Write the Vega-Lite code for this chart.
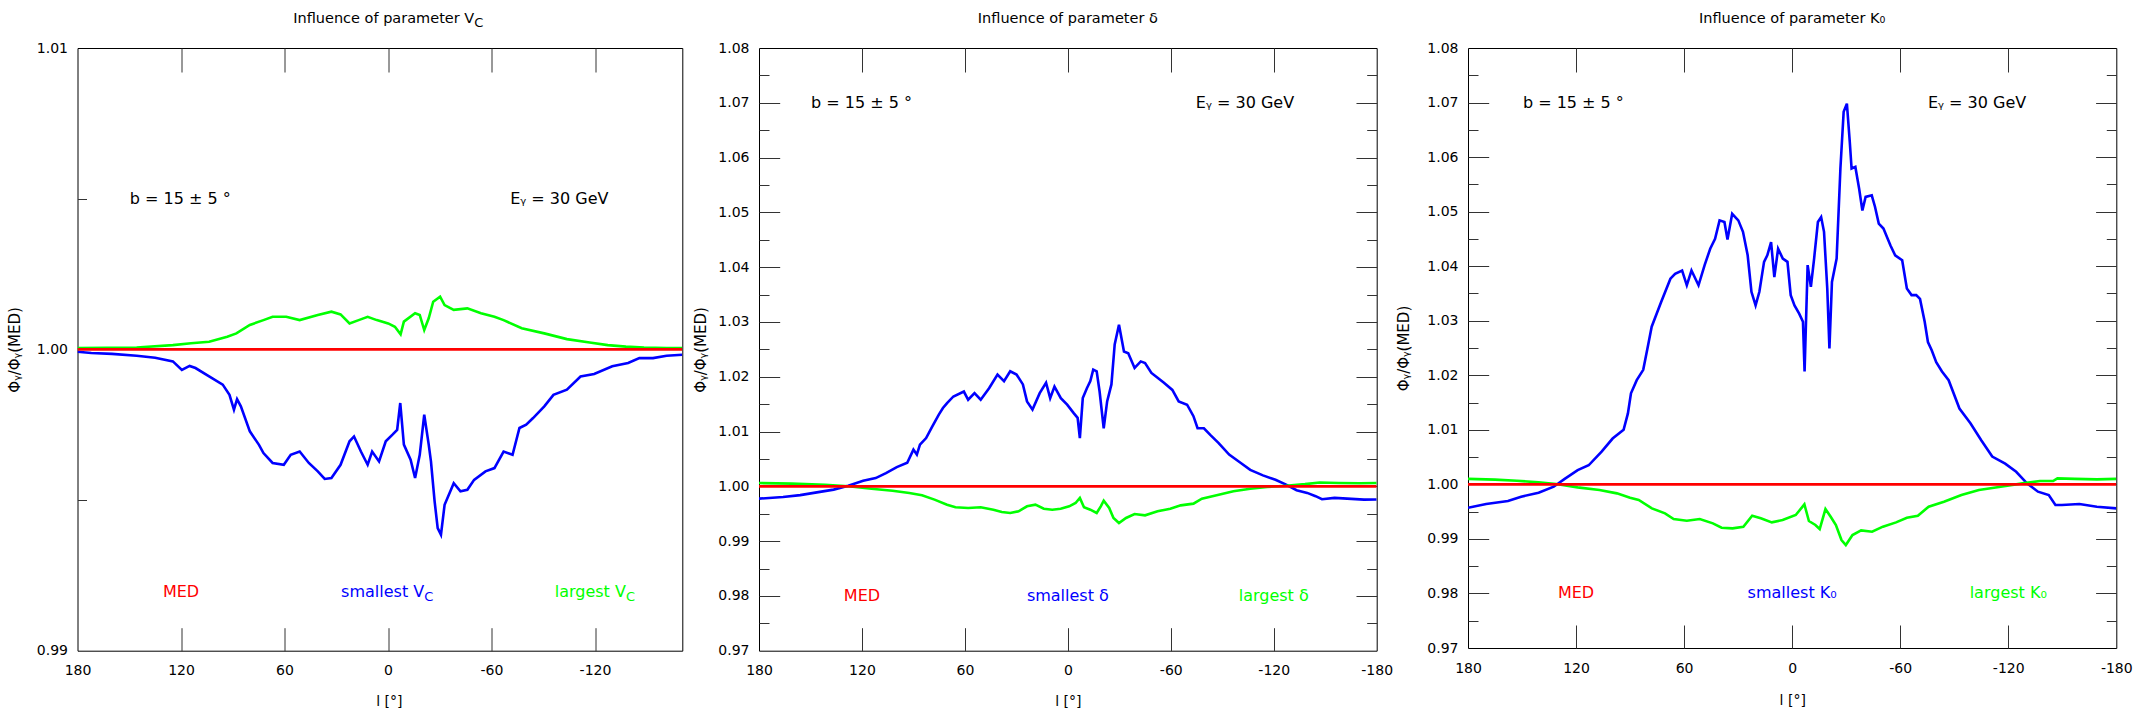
{
 "$schema": "https://vega.github.io/schema/vega-lite/v6.json",
 "padding": {"left": 6.5, "top": 10, "right": 5, "bottom": 0},
 "background": "white",
 "config": {
  "view": {"stroke": "#000000", "strokeWidth": 1},
  "axis": {"grid": false, "domain": false, "labelFont": "DejaVu Sans", "labelFontSize": 14, "labelColor": "#000000", "labelFlush": false, "labelOverlap": false, "labelBound": false, "tickColor": "#333333", "tickWidth": 1, "titleFont": "DejaVu Sans", "titleFontSize": 15, "titleFontWeight": "normal", "titleColor": "#000000"},
  "text": {"font": "DejaVu Sans"}
 },
 "datasets": {
  "p1": [
   {"l":180,"v":0.99992,"s":"smallest"},{"l":172,"v":0.99988,"s":"smallest"},{"l":160,"v":0.99985,"s":"smallest"},{"l":145.7,"v":0.99979,"s":"smallest"},{"l":135,"v":0.99972,"s":"smallest"},{"l":124.7,"v":0.9996,"s":"smallest"},{"l":119.5,"v":0.99932,"s":"smallest"},{"l":115,"v":0.99945,"s":"smallest"},{"l":111.6,"v":0.99938,"s":"smallest"},{"l":103.7,"v":0.9991,"s":"smallest"},{"l":95.8,"v":0.99883,"s":"smallest"},{"l":91.9,"v":0.99849,"s":"smallest"},{"l":89.3,"v":0.998,"s":"smallest"},{"l":87.5,"v":0.99835,"s":"smallest"},{"l":85.3,"v":0.99811,"s":"smallest"},{"l":80.1,"v":0.99728,"s":"smallest"},{"l":74.8,"v":0.99683,"s":"smallest"},{"l":72.2,"v":0.99656,"s":"smallest"},{"l":66.9,"v":0.99623,"s":"smallest"},{"l":60.4,"v":0.99617,"s":"smallest"},{"l":56.4,"v":0.9965,"s":"smallest"},{"l":51.2,"v":0.99661,"s":"smallest"},{"l":45.9,"v":0.99623,"s":"smallest"},{"l":40.7,"v":0.99595,"s":"smallest"},{"l":36.7,"v":0.9957,"s":"smallest"},{"l":32.8,"v":0.99573,"s":"smallest"},{"l":27.5,"v":0.99617,"s":"smallest"},{"l":22.3,"v":0.99695,"s":"smallest"},{"l":19.7,"v":0.99711,"s":"smallest"},{"l":15.7,"v":0.99661,"s":"smallest"},{"l":11.8,"v":0.99617,"s":"smallest"},{"l":9.2,"v":0.99661,"s":"smallest"},{"l":5.2,"v":0.99628,"s":"smallest"},{"l":1.3,"v":0.99695,"s":"smallest"},{"l":-2.6,"v":0.99717,"s":"smallest"},{"l":-5.3,"v":0.99733,"s":"smallest"},{"l":-7.1,"v":0.99822,"s":"smallest"},{"l":-9.2,"v":0.99684,"s":"smallest"},{"l":-13.1,"v":0.99634,"s":"smallest"},{"l":-15.7,"v":0.99573,"s":"smallest"},{"l":-18.4,"v":0.9965,"s":"smallest"},{"l":-21,"v":0.99783,"s":"smallest"},{"l":-23.6,"v":0.99684,"s":"smallest"},{"l":-24.9,"v":0.99628,"s":"smallest"},{"l":-27,"v":0.99496,"s":"smallest"},{"l":-28.8,"v":0.99407,"s":"smallest"},{"l":-30.7,"v":0.99385,"s":"smallest"},{"l":-32.8,"v":0.99484,"s":"smallest"},{"l":-38.1,"v":0.99556,"s":"smallest"},{"l":-42,"v":0.99529,"s":"smallest"},{"l":-46,"v":0.99534,"s":"smallest"},{"l":-49.9,"v":0.99567,"s":"smallest"},{"l":-56.5,"v":0.99595,"s":"smallest"},{"l":-61.7,"v":0.99606,"s":"smallest"},{"l":-67,"v":0.99661,"s":"smallest"},{"l":-72.2,"v":0.9965,"s":"smallest"},{"l":-76.2,"v":0.99739,"s":"smallest"},{"l":-80.1,"v":0.9975,"s":"smallest"},{"l":-84.1,"v":0.99772,"s":"smallest"},{"l":-90.6,"v":0.99811,"s":"smallest"},{"l":-95.9,"v":0.99849,"s":"smallest"},{"l":-103.7,"v":0.99866,"s":"smallest"},{"l":-111.6,"v":0.9991,"s":"smallest"},{"l":-119.5,"v":0.99918,"s":"smallest"},{"l":-130,"v":0.99944,"s":"smallest"},{"l":-139.2,"v":0.99955,"s":"smallest"},{"l":-145.7,"v":0.99971,"s":"smallest"},{"l":-153.6,"v":0.99971,"s":"smallest"},{"l":-161.5,"v":0.99979,"s":"smallest"},{"l":-170.6,"v":0.99982,"s":"smallest"},
   {"l":180,"v":1.00004,"s":"largest"},{"l":145.7,"v":1.00006,"s":"largest"},{"l":124.7,"v":1.00014,"s":"largest"},{"l":114.2,"v":1.0002,"s":"largest"},{"l":103.7,"v":1.00025,"s":"largest"},{"l":93.2,"v":1.00042,"s":"largest"},{"l":87.9,"v":1.00053,"s":"largest"},{"l":80.1,"v":1.00081,"s":"largest"},{"l":72.2,"v":1.00097,"s":"largest"},{"l":66.9,"v":1.00108,"s":"largest"},{"l":59,"v":1.00108,"s":"largest"},{"l":51.2,"v":1.00097,"s":"largest"},{"l":40.7,"v":1.00114,"s":"largest"},{"l":32.8,"v":1.00125,"s":"largest"},{"l":27.5,"v":1.00116,"s":"largest"},{"l":22.3,"v":1.00086,"s":"largest"},{"l":17,"v":1.00097,"s":"largest"},{"l":11.8,"v":1.00108,"s":"largest"},{"l":6.5,"v":1.00097,"s":"largest"},{"l":-0.1,"v":1.00086,"s":"largest"},{"l":-4,"v":1.00075,"s":"largest"},{"l":-7.3,"v":1.0005,"s":"largest"},{"l":-9.2,"v":1.00092,"s":"largest"},{"l":-15.7,"v":1.0012,"s":"largest"},{"l":-18.4,"v":1.00114,"s":"largest"},{"l":-21,"v":1.00064,"s":"largest"},{"l":-23.6,"v":1.00103,"s":"largest"},{"l":-26.2,"v":1.00158,"s":"largest"},{"l":-30.2,"v":1.00175,"s":"largest"},{"l":-32.8,"v":1.00147,"s":"largest"},{"l":-38.1,"v":1.00131,"s":"largest"},{"l":-46,"v":1.00136,"s":"largest"},{"l":-53.9,"v":1.0012,"s":"largest"},{"l":-61.7,"v":1.00108,"s":"largest"},{"l":-67,"v":1.00097,"s":"largest"},{"l":-77.5,"v":1.0007,"s":"largest"},{"l":-90.6,"v":1.00053,"s":"largest"},{"l":-103.7,"v":1.00034,"s":"largest"},{"l":-116.9,"v":1.00023,"s":"largest"},{"l":-127.4,"v":1.00014,"s":"largest"},{"l":-137.9,"v":1.00009,"s":"largest"},{"l":-148.4,"v":1.00006,"s":"largest"},{"l":-161.5,"v":1.00004,"s":"largest"},{"l":-170.6,"v":1.00004,"s":"largest"},
   {"l":180,"v":1.0,"s":"MED"},{"l":-170.6,"v":1.0,"s":"MED"}
  ],
  "p2": [
   {"l":180,"v":0.99775,"s":"smallest"},{"l":166,"v":0.99805,"s":"smallest"},{"l":156,"v":0.9984,"s":"smallest"},{"l":146.3,"v":0.9989,"s":"smallest"},{"l":136.5,"v":0.9994,"s":"smallest"},{"l":128,"v":1.0001,"s":"smallest"},{"l":119.3,"v":1.001,"s":"smallest"},{"l":112,"v":1.0015,"s":"smallest"},{"l":106,"v":1.0024,"s":"smallest"},{"l":99.7,"v":1.0035,"s":"smallest"},{"l":93.6,"v":1.0043,"s":"smallest"},{"l":90,"v":1.0067,"s":"smallest"},{"l":88,"v":1.0058,"s":"smallest"},{"l":86.2,"v":1.0076,"s":"smallest"},{"l":82.6,"v":1.0088,"s":"smallest"},{"l":78.9,"v":1.011,"s":"smallest"},{"l":75.2,"v":1.0131,"s":"smallest"},{"l":72.8,"v":1.0143,"s":"smallest"},{"l":70.4,"v":1.0152,"s":"smallest"},{"l":66.7,"v":1.0164,"s":"smallest"},{"l":60.6,"v":1.0173,"s":"smallest"},{"l":58.1,"v":1.0158,"s":"smallest"},{"l":54.4,"v":1.017,"s":"smallest"},{"l":50.8,"v":1.0158,"s":"smallest"},{"l":45.9,"v":1.0179,"s":"smallest"},{"l":41,"v":1.0204,"s":"smallest"},{"l":37.2,"v":1.0192,"s":"smallest"},{"l":33.6,"v":1.021,"s":"smallest"},{"l":29.9,"v":1.0204,"s":"smallest"},{"l":26.2,"v":1.0186,"s":"smallest"},{"l":23.8,"v":1.0155,"s":"smallest"},{"l":20.6,"v":1.014,"s":"smallest"},{"l":16.4,"v":1.017,"s":"smallest"},{"l":12.7,"v":1.0189,"s":"smallest"},{"l":10.3,"v":1.0161,"s":"smallest"},{"l":7.8,"v":1.0182,"s":"smallest"},{"l":4.1,"v":1.0161,"s":"smallest"},{"l":0.4,"v":1.0149,"s":"smallest"},{"l":-3.3,"v":1.0134,"s":"smallest"},{"l":-5.7,"v":1.0125,"s":"smallest"},{"l":-7,"v":1.0088,"s":"smallest"},{"l":-8.7,"v":1.0161,"s":"smallest"},{"l":-11.1,"v":1.0179,"s":"smallest"},{"l":-13.1,"v":1.0192,"s":"smallest"},{"l":-14.8,"v":1.0213,"s":"smallest"},{"l":-16.8,"v":1.021,"s":"smallest"},{"l":-18.5,"v":1.0173,"s":"smallest"},{"l":-20.9,"v":1.0106,"s":"smallest"},{"l":-22.9,"v":1.0155,"s":"smallest"},{"l":-25.4,"v":1.0186,"s":"smallest"},{"l":-27.3,"v":1.0259,"s":"smallest"},{"l":-29.8,"v":1.0295,"s":"smallest"},{"l":-32.7,"v":1.0246,"s":"smallest"},{"l":-35.2,"v":1.0243,"s":"smallest"},{"l":-38.9,"v":1.0216,"s":"smallest"},{"l":-42.5,"v":1.0228,"s":"smallest"},{"l":-45,"v":1.0225,"s":"smallest"},{"l":-48.7,"v":1.0207,"s":"smallest"},{"l":-52.3,"v":1.0198,"s":"smallest"},{"l":-56,"v":1.0189,"s":"smallest"},{"l":-60.9,"v":1.0176,"s":"smallest"},{"l":-64.6,"v":1.0155,"s":"smallest"},{"l":-69.5,"v":1.0149,"s":"smallest"},{"l":-73.2,"v":1.0128,"s":"smallest"},{"l":-75.6,"v":1.0106,"s":"smallest"},{"l":-79.3,"v":1.0106,"s":"smallest"},{"l":-83,"v":1.0094,"s":"smallest"},{"l":-87.9,"v":1.0079,"s":"smallest"},{"l":-94,"v":1.0058,"s":"smallest"},{"l":-100.2,"v":1.0044,"s":"smallest"},{"l":-106.3,"v":1.003,"s":"smallest"},{"l":-113.7,"v":1.002,"s":"smallest"},{"l":-121,"v":1.0012,"s":"smallest"},{"l":-127.2,"v":1.0003,"s":"smallest"},{"l":-133.3,"v":0.9993,"s":"smallest"},{"l":-139.5,"v":0.9988,"s":"smallest"},{"l":-144.4,"v":0.9982,"s":"smallest"},{"l":-148.1,"v":0.99765,"s":"smallest"},{"l":-155.4,"v":0.9979,"s":"smallest"},{"l":-162.8,"v":0.99775,"s":"smallest"},{"l":-172.6,"v":0.99757,"s":"smallest"},{"l":-180,"v":0.9976,"s":"smallest"},
   {"l":180,"v":1.0006,"s":"largest"},{"l":161,"v":1.0005,"s":"largest"},{"l":141.4,"v":1.0003,"s":"largest"},{"l":128,"v":1.0,"s":"largest"},{"l":114.4,"v":0.99957,"s":"largest"},{"l":102.2,"v":0.9992,"s":"largest"},{"l":92.4,"v":0.99878,"s":"largest"},{"l":85,"v":0.99836,"s":"largest"},{"l":77.7,"v":0.99757,"s":"largest"},{"l":70.4,"v":0.99665,"s":"largest"},{"l":65.5,"v":0.99617,"s":"largest"},{"l":58.1,"v":0.99605,"s":"largest"},{"l":50.8,"v":0.99617,"s":"largest"},{"l":43.4,"v":0.99574,"s":"largest"},{"l":38.5,"v":0.99532,"s":"largest"},{"l":33.6,"v":0.99513,"s":"largest"},{"l":28.7,"v":0.99544,"s":"largest"},{"l":23.8,"v":0.99635,"s":"largest"},{"l":18.9,"v":0.99665,"s":"largest"},{"l":14,"v":0.99592,"s":"largest"},{"l":9.1,"v":0.99574,"s":"largest"},{"l":4.2,"v":0.99592,"s":"largest"},{"l":-0.8,"v":0.99635,"s":"largest"},{"l":-4.5,"v":0.99696,"s":"largest"},{"l":-7,"v":0.99787,"s":"largest"},{"l":-9.4,"v":0.99617,"s":"largest"},{"l":-13.1,"v":0.99574,"s":"largest"},{"l":-16.8,"v":0.99513,"s":"largest"},{"l":-19.2,"v":0.99635,"s":"largest"},{"l":-20.9,"v":0.99738,"s":"largest"},{"l":-24.1,"v":0.99605,"s":"largest"},{"l":-26.6,"v":0.99422,"s":"largest"},{"l":-29.8,"v":0.99331,"s":"largest"},{"l":-33.9,"v":0.99422,"s":"largest"},{"l":-38.9,"v":0.99495,"s":"largest"},{"l":-45,"v":0.99471,"s":"largest"},{"l":-52.3,"v":0.99544,"s":"largest"},{"l":-59.7,"v":0.99592,"s":"largest"},{"l":-65.8,"v":0.99653,"s":"largest"},{"l":-73.2,"v":0.99684,"s":"largest"},{"l":-78.1,"v":0.99775,"s":"largest"},{"l":-86.7,"v":0.99836,"s":"largest"},{"l":-96.5,"v":0.99909,"s":"largest"},{"l":-106.3,"v":0.99957,"s":"largest"},{"l":-116.1,"v":0.99988,"s":"largest"},{"l":-127.2,"v":1.0001,"s":"largest"},{"l":-138.2,"v":1.0004,"s":"largest"},{"l":-146.8,"v":1.0007,"s":"largest"},{"l":-157.8,"v":1.0006,"s":"largest"},{"l":-170.1,"v":1.00055,"s":"largest"},{"l":-180,"v":1.0006,"s":"largest"},
   {"l":180,"v":1.0,"s":"MED"},{"l":-180,"v":1.0,"s":"MED"}
  ],
  "p3": [
   {"l":180,"v":0.99572,"s":"smallest"},{"l":169.9,"v":0.9964,"s":"smallest"},{"l":157.8,"v":0.99694,"s":"smallest"},{"l":150.5,"v":0.99774,"s":"smallest"},{"l":140.8,"v":0.99847,"s":"smallest"},{"l":132.4,"v":0.99957,"s":"smallest"},{"l":126.3,"v":1.001,"s":"smallest"},{"l":119.1,"v":1.0026,"s":"smallest"},{"l":113,"v":1.0035,"s":"smallest"},{"l":105.8,"v":1.006,"s":"smallest"},{"l":99.7,"v":1.0084,"s":"smallest"},{"l":93.6,"v":1.01,"s":"smallest"},{"l":91.2,"v":1.013,"s":"smallest"},{"l":89.5,"v":1.0167,"s":"smallest"},{"l":86.3,"v":1.0191,"s":"smallest"},{"l":82.7,"v":1.021,"s":"smallest"},{"l":80,"v":1.0255,"s":"smallest"},{"l":78,"v":1.0289,"s":"smallest"},{"l":72.8,"v":1.0334,"s":"smallest"},{"l":67.6,"v":1.0377,"s":"smallest"},{"l":65,"v":1.0386,"s":"smallest"},{"l":61.1,"v":1.0392,"s":"smallest"},{"l":58.5,"v":1.0365,"s":"smallest"},{"l":55.9,"v":1.0392,"s":"smallest"},{"l":52,"v":1.0365,"s":"smallest"},{"l":48.6,"v":1.0402,"s":"smallest"},{"l":45.5,"v":1.0432,"s":"smallest"},{"l":42.8,"v":1.045,"s":"smallest"},{"l":40.3,"v":1.0484,"s":"smallest"},{"l":37.6,"v":1.0481,"s":"smallest"},{"l":35.9,"v":1.0449,"s":"smallest"},{"l":33.3,"v":1.0496,"s":"smallest"},{"l":29.9,"v":1.0484,"s":"smallest"},{"l":27.3,"v":1.0463,"s":"smallest"},{"l":24.7,"v":1.042,"s":"smallest"},{"l":22.6,"v":1.0353,"s":"smallest"},{"l":20.3,"v":1.0328,"s":"smallest"},{"l":18.2,"v":1.0353,"s":"smallest"},{"l":15.6,"v":1.0408,"s":"smallest"},{"l":13.8,"v":1.042,"s":"smallest"},{"l":11.7,"v":1.0444,"s":"smallest"},{"l":9.9,"v":1.038,"s":"smallest"},{"l":7.8,"v":1.0432,"s":"smallest"},{"l":5.2,"v":1.0414,"s":"smallest"},{"l":2.6,"v":1.0408,"s":"smallest"},{"l":0.8,"v":1.0347,"s":"smallest"},{"l":-1.3,"v":1.0328,"s":"smallest"},{"l":-3.9,"v":1.0313,"s":"smallest"},{"l":-6,"v":1.0298,"s":"smallest"},{"l":-6.9,"v":1.0207,"s":"smallest"},{"l":-8.6,"v":1.0402,"s":"smallest"},{"l":-10.4,"v":1.0362,"s":"smallest"},{"l":-12.2,"v":1.0414,"s":"smallest"},{"l":-14.3,"v":1.0481,"s":"smallest"},{"l":-16.1,"v":1.049,"s":"smallest"},{"l":-17.7,"v":1.0463,"s":"smallest"},{"l":-19.5,"v":1.0359,"s":"smallest"},{"l":-20.7,"v":1.0249,"s":"smallest"},{"l":-22.1,"v":1.0371,"s":"smallest"},{"l":-24.7,"v":1.0414,"s":"smallest"},{"l":-26.8,"v":1.0579,"s":"smallest"},{"l":-28.6,"v":1.0683,"s":"smallest"},{"l":-30.4,"v":1.0698,"s":"smallest"},{"l":-32,"v":1.0628,"s":"smallest"},{"l":-33,"v":1.0579,"s":"smallest"},{"l":-35.1,"v":1.0582,"s":"smallest"},{"l":-37.2,"v":1.0542,"s":"smallest"},{"l":-39,"v":1.0502,"s":"smallest"},{"l":-40.8,"v":1.0527,"s":"smallest"},{"l":-44.2,"v":1.053,"s":"smallest"},{"l":-46,"v":1.0509,"s":"smallest"},{"l":-48.1,"v":1.0478,"s":"smallest"},{"l":-50.7,"v":1.0469,"s":"smallest"},{"l":-54.6,"v":1.0438,"s":"smallest"},{"l":-57.2,"v":1.042,"s":"smallest"},{"l":-61.1,"v":1.0411,"s":"smallest"},{"l":-63.7,"v":1.0359,"s":"smallest"},{"l":-66.3,"v":1.0347,"s":"smallest"},{"l":-68.9,"v":1.0347,"s":"smallest"},{"l":-71,"v":1.034,"s":"smallest"},{"l":-73.6,"v":1.0298,"s":"smallest"},{"l":-75.4,"v":1.0261,"s":"smallest"},{"l":-77.5,"v":1.0246,"s":"smallest"},{"l":-80,"v":1.0224,"s":"smallest"},{"l":-83.2,"v":1.0207,"s":"smallest"},{"l":-86.9,"v":1.0191,"s":"smallest"},{"l":-92.9,"v":1.0139,"s":"smallest"},{"l":-99,"v":1.0112,"s":"smallest"},{"l":-105,"v":1.0081,"s":"smallest"},{"l":-111.1,"v":1.0051,"s":"smallest"},{"l":-118.3,"v":1.0038,"s":"smallest"},{"l":-124.4,"v":1.0023,"s":"smallest"},{"l":-130.4,"v":1.0002,"s":"smallest"},{"l":-136.5,"v":0.99866,"s":"smallest"},{"l":-142.5,"v":0.99804,"s":"smallest"},{"l":-146.2,"v":0.99621,"s":"smallest"},{"l":-149.8,"v":0.99621,"s":"smallest"},{"l":-159.5,"v":0.9964,"s":"smallest"},{"l":-169.2,"v":0.99591,"s":"smallest"},{"l":-180,"v":0.9956,"s":"smallest"},
   {"l":180,"v":1.001,"s":"largest"},{"l":165,"v":1.00086,"s":"largest"},{"l":152.9,"v":1.00067,"s":"largest"},{"l":140.8,"v":1.00037,"s":"largest"},{"l":131.1,"v":1.00006,"s":"largest"},{"l":119.1,"v":0.99945,"s":"largest"},{"l":107,"v":0.99896,"s":"largest"},{"l":97.3,"v":0.99835,"s":"largest"},{"l":90,"v":0.99756,"s":"largest"},{"l":85.2,"v":0.99713,"s":"largest"},{"l":77.9,"v":0.9956,"s":"largest"},{"l":70.6,"v":0.99468,"s":"largest"},{"l":65.8,"v":0.99364,"s":"largest"},{"l":58.5,"v":0.99334,"s":"largest"},{"l":51.3,"v":0.99364,"s":"largest"},{"l":44,"v":0.99285,"s":"largest"},{"l":39.2,"v":0.99206,"s":"largest"},{"l":33.1,"v":0.99193,"s":"largest"},{"l":27.1,"v":0.99224,"s":"largest"},{"l":22.2,"v":0.99426,"s":"largest"},{"l":17.4,"v":0.99377,"s":"largest"},{"l":11.3,"v":0.99303,"s":"largest"},{"l":5.3,"v":0.99346,"s":"largest"},{"l":-2,"v":0.99438,"s":"largest"},{"l":-6.8,"v":0.99633,"s":"largest"},{"l":-9.3,"v":0.99328,"s":"largest"},{"l":-12.9,"v":0.99255,"s":"largest"},{"l":-15.3,"v":0.99181,"s":"largest"},{"l":-18.5,"v":0.99548,"s":"largest"},{"l":-21.4,"v":0.99407,"s":"largest"},{"l":-24.3,"v":0.99255,"s":"largest"},{"l":-27.4,"v":0.98979,"s":"largest"},{"l":-29.8,"v":0.98888,"s":"largest"},{"l":-33.5,"v":0.99071,"s":"largest"},{"l":-38.3,"v":0.99157,"s":"largest"},{"l":-44.4,"v":0.99132,"s":"largest"},{"l":-50.4,"v":0.99224,"s":"largest"},{"l":-57.7,"v":0.99303,"s":"largest"},{"l":-63.7,"v":0.99389,"s":"largest"},{"l":-69.8,"v":0.99426,"s":"largest"},{"l":-75.8,"v":0.99591,"s":"largest"},{"l":-84.3,"v":0.99682,"s":"largest"},{"l":-94,"v":0.99804,"s":"largest"},{"l":-103.7,"v":0.99896,"s":"largest"},{"l":-115.8,"v":0.99957,"s":"largest"},{"l":-127.9,"v":1.00018,"s":"largest"},{"l":-137.6,"v":1.00061,"s":"largest"},{"l":-144.9,"v":1.00061,"s":"largest"},{"l":-147.3,"v":1.0011,"s":"largest"},{"l":-157,"v":1.001,"s":"largest"},{"l":-169.2,"v":1.00092,"s":"largest"},{"l":-180,"v":1.001,"s":"largest"},
   {"l":180,"v":1.0,"s":"MED"},{"l":-180,"v":1.0,"s":"MED"}
  ]
 },
 "bounds": "flush",
 "spacing": 76.5,
 "hconcat": [
  {
   "width": 604.8, "height": 602.7,
   "resolve": {"axis": {"x": "independent", "y": "independent"}},
   "layer": [
    {"data": {"name": "p1"}, "transform": [{"filter": "datum.s !== 'MED'"}],
     "mark": {"type": "line", "strokeWidth": 2.6, "clip": true},
     "encoding": {
      "x": {"field": "l", "type": "quantitative", "scale": {"domain": [180, -170.6], "nice": false, "zero": false},
       "axis": {"orient": "bottom", "values": [180, 120, 60, 0, -60, -120], "ticks": false, "labelPadding": 13, "labelExpr": "'' + datum.value", "title": "l [°]", "titleFontSize": 14, "titleX": 311.3, "titleY": 51, "titleAlign": "center", "titleBaseline": "middle"}},
      "y": {"field": "v", "type": "quantitative", "scale": {"domain": [0.99, 1.01], "nice": false, "zero": false},
       "axis": {"orient": "left", "values": [0.99, 1.0, 1.01], "ticks": false, "labelPadding": 10, "format": ".2f", "title": "Φᵧ/Φᵧ(MED)", "titleX": -62.7, "titleY": 301.4, "titleAngle": 270, "titleAlign": "center", "titleBaseline": "middle"}},
      "color": {"field": "s", "type": "nominal", "scale": {"domain": ["MED", "smallest", "largest", "note"], "range": ["#ff0000", "#0000ff", "#00ff00", "#000000"]}, "legend": null}
     }},
    {"data": {"name": "p1"}, "transform": [{"filter": "datum.s === 'MED'"}],
     "mark": {"type": "line", "strokeWidth": 2.6, "clip": true},
     "encoding": {
      "x": {"field": "l", "type": "quantitative", "axis": {"orient": "top", "values": [120, 60, 0, -60, -120], "labels": false, "tickSize": -24, "title": null}},
      "y": {"field": "v", "type": "quantitative", "axis": {"orient": "left", "values": [0.995, 1.005], "labels": false, "tickSize": -9, "title": null}},
      "color": {"field": "s", "type": "nominal", "legend": null}
     }},
    {"data": {"values": [{"t": "b = 15 ± 5 °", "l": 149.7, "v": 1.005, "s": "note"}, {"t": "Eᵧ = 30 GeV", "l": -70.8, "v": 1.005, "s": "note"}]},
     "mark": {"type": "text", "align": "left", "baseline": "middle", "fontSize": 16},
     "encoding": {
      "x": {"field": "l", "type": "quantitative", "axis": {"orient": "bottom", "values": [120, 60, 0, -60, -120], "labels": false, "tickSize": -23, "title": null}},
      "y": {"field": "v", "type": "quantitative", "axis": null},
      "text": {"field": "t"},
      "color": {"field": "s", "type": "nominal", "legend": null}
     }},
    {"data": {"values": [{"t": "MED", "l": 120, "v": 0.99196, "s": "MED"}]},
     "mark": {"type": "text", "align": "center", "baseline": "middle", "fontSize": 16},
     "encoding": {
      "x": {"field": "l", "type": "quantitative", "axis": null},
      "y": {"field": "v", "type": "quantitative", "axis": null},
      "text": {"field": "t"},
      "color": {"field": "s", "type": "nominal", "legend": null}
     }},
    {"data": {"values": [{"t": "smallest V", "l": -21.0, "v": 0.99196, "s": "smallest"}, {"t": "largest V", "l": -137.9, "v": 0.99196, "s": "largest"}]},
     "mark": {"type": "text", "align": "right", "baseline": "middle", "fontSize": 16},
     "encoding": {
      "x": {"field": "l", "type": "quantitative", "axis": null},
      "y": {"field": "v", "type": "quantitative", "axis": null},
      "text": {"field": "t"},
      "color": {"field": "s", "type": "nominal", "legend": null}
     }},
    {"data": {"values": [{"t": "Influence of parameter V", "l": -50.0, "v": 1.01096, "s": "note"}]},
     "mark": {"type": "text", "align": "right", "baseline": "middle", "fontSize": 14.5},
     "encoding": {
      "x": {"field": "l", "type": "quantitative", "axis": null},
      "y": {"field": "v", "type": "quantitative", "axis": null},
      "text": {"field": "t"},
      "color": {"field": "s", "type": "nominal", "legend": null}
     }},
    {"data": {"values": [{"t": "C", "l": -50.0, "v": 1.01084, "s": "note"}, {"t": "C", "l": -21.0, "v": 0.99178, "s": "smallest"}, {"t": "C", "l": -137.9, "v": 0.99178, "s": "largest"}]},
     "mark": {"type": "text", "align": "left", "baseline": "middle", "fontSize": 13},
     "encoding": {
      "x": {"field": "l", "type": "quantitative", "axis": null},
      "y": {"field": "v", "type": "quantitative", "axis": null},
      "text": {"field": "t"},
      "color": {"field": "s", "type": "nominal", "legend": null}
     }}
   ]
  },
  {
   "bounds": "flush",
   "spacing": 91,
   "hconcat": [
    {
     "width": 617.7, "height": 602.7,
     "resolve": {"axis": {"x": "independent", "y": "independent"}},
     "layer": [
      {"data": {"name": "p2"}, "transform": [{"filter": "datum.s !== 'MED'"}],
       "mark": {"type": "line", "strokeWidth": 2.6, "clip": true},
       "encoding": {
        "x": {"field": "l", "type": "quantitative", "scale": {"domain": [180, -180], "nice": false, "zero": false},
         "axis": {"orient": "bottom", "values": [180, 120, 60, 0, -60, -120, -180], "ticks": false, "labelPadding": 13, "labelExpr": "'' + datum.value", "title": "l [°]", "titleFontSize": 14, "titleX": 308.9, "titleY": 51, "titleAlign": "center", "titleBaseline": "middle"}},
        "y": {"field": "v", "type": "quantitative", "scale": {"domain": [0.97, 1.08], "nice": false, "zero": false},
         "axis": {"orient": "left", "values": [0.97, 0.98, 0.99, 1.0, 1.01, 1.02, 1.03, 1.04, 1.05, 1.06, 1.07, 1.08], "ticks": false, "labelPadding": 10, "format": ".2f", "title": "Φᵧ/Φᵧ(MED)", "titleX": -59, "titleY": 301.4, "titleAngle": 270, "titleAlign": "center", "titleBaseline": "middle"}},
        "color": {"field": "s", "type": "nominal", "scale": {"domain": ["MED", "smallest", "largest", "note"], "range": ["#ff0000", "#0000ff", "#00ff00", "#000000"]}, "legend": null}
       }},
      {"data": {"name": "p2"}, "transform": [{"filter": "datum.s === 'MED'"}],
       "mark": {"type": "line", "strokeWidth": 2.6, "clip": true},
       "encoding": {
        "x": {"field": "l", "type": "quantitative", "axis": {"orient": "top", "values": [120, 60, 0, -60, -120], "labels": false, "tickSize": -24, "title": null}},
        "y": {"field": "v", "type": "quantitative", "axis": {"orient": "left", "values": [0.98, 0.99, 1.0, 1.01, 1.02, 1.03, 1.04, 1.05, 1.06, 1.07], "labels": false, "tickSize": -20.7, "title": null}},
        "color": {"field": "s", "type": "nominal", "legend": null}
       }},
      {"data": {"values": [{"t": "b = 15 ± 5 °", "l": 149.7, "v": 1.07, "s": "note"}, {"t": "Eᵧ = 30 GeV", "l": -74.6, "v": 1.07, "s": "note"}]},
       "mark": {"type": "text", "align": "left", "baseline": "middle", "fontSize": 16},
       "encoding": {
        "x": {"field": "l", "type": "quantitative", "axis": {"orient": "bottom", "values": [120, 60, 0, -60, -120], "labels": false, "tickSize": -23, "title": null}},
        "y": {"field": "v", "type": "quantitative", "axis": {"orient": "left", "values": [0.975, 0.985, 0.995, 1.005, 1.015, 1.025, 1.035, 1.045, 1.055, 1.065, 1.075], "labels": false, "tickSize": -10, "title": null}},
        "text": {"field": "t"},
        "color": {"field": "s", "type": "nominal", "legend": null}
       }},
      {"data": {"values": [{"t": "MED", "l": 120, "v": 0.98, "s": "MED"}, {"t": "smallest δ", "l": 0, "v": 0.98, "s": "smallest"}, {"t": "largest δ", "l": -120, "v": 0.98, "s": "largest"}]},
       "mark": {"type": "text", "align": "center", "baseline": "middle", "fontSize": 16},
       "encoding": {
        "x": {"field": "l", "type": "quantitative", "axis": null},
        "y": {"field": "v", "type": "quantitative", "axis": {"orient": "right", "values": [0.98, 0.99, 1.0, 1.01, 1.02, 1.03, 1.04, 1.05, 1.06, 1.07], "labels": false, "tickSize": -20.7, "title": null}},
        "text": {"field": "t"},
        "color": {"field": "s", "type": "nominal", "legend": null}
       }},
      {"data": {"values": [{"t": "Influence of parameter δ", "l": 0, "v": 1.08529, "s": "note"}]},
       "mark": {"type": "text", "align": "center", "baseline": "middle", "fontSize": 14.5},
       "encoding": {
        "x": {"field": "l", "type": "quantitative", "axis": null},
        "y": {"field": "v", "type": "quantitative", "axis": {"orient": "right", "values": [0.975, 0.985, 0.995, 1.005, 1.015, 1.025, 1.035, 1.045, 1.055, 1.065, 1.075], "labels": false, "tickSize": -10, "title": null}},
        "text": {"field": "t"},
        "color": {"field": "s", "type": "nominal", "legend": null}
       }}
     ]
    },
    {
     "width": 648.3, "height": 600,
     "resolve": {"axis": {"x": "independent", "y": "independent"}},
     "layer": [
      {"data": {"name": "p3"}, "transform": [{"filter": "datum.s !== 'MED'"}],
       "mark": {"type": "line", "strokeWidth": 2.6, "clip": true},
       "encoding": {
        "x": {"field": "l", "type": "quantitative", "scale": {"domain": [180, -180], "nice": false, "zero": false},
         "axis": {"orient": "bottom", "values": [180, 120, 60, 0, -60, -120, -180], "ticks": false, "labelPadding": 13, "labelExpr": "'' + datum.value", "title": "l [°]", "titleFontSize": 14, "titleX": 324.2, "titleY": 52, "titleAlign": "center", "titleBaseline": "middle"}},
        "y": {"field": "v", "type": "quantitative", "scale": {"domain": [0.97, 1.08], "nice": false, "zero": false},
         "axis": {"orient": "left", "values": [0.97, 0.98, 0.99, 1.0, 1.01, 1.02, 1.03, 1.04, 1.05, 1.06, 1.07, 1.08], "ticks": false, "labelPadding": 10, "format": ".2f", "title": "Φᵧ/Φᵧ(MED)", "titleX": -65, "titleY": 300, "titleAngle": 270, "titleAlign": "center", "titleBaseline": "middle"}},
        "color": {"field": "s", "type": "nominal", "scale": {"domain": ["MED", "smallest", "largest", "note"], "range": ["#ff0000", "#0000ff", "#00ff00", "#000000"]}, "legend": null}
       }},
      {"data": {"name": "p3"}, "transform": [{"filter": "datum.s === 'MED'"}],
       "mark": {"type": "line", "strokeWidth": 2.6, "clip": true},
       "encoding": {
        "x": {"field": "l", "type": "quantitative", "axis": {"orient": "top", "values": [120, 60, 0, -60, -120], "labels": false, "tickSize": -24, "title": null}},
        "y": {"field": "v", "type": "quantitative", "axis": {"orient": "left", "values": [0.98, 0.99, 1.0, 1.01, 1.02, 1.03, 1.04, 1.05, 1.06, 1.07], "labels": false, "tickSize": -20.7, "title": null}},
        "color": {"field": "s", "type": "nominal", "legend": null}
       }},
      {"data": {"values": [{"t": "b = 15 ± 5 °", "l": 149.5, "v": 1.07, "s": "note"}, {"t": "Eᵧ = 30 GeV", "l": -75.4, "v": 1.07, "s": "note"}]},
       "mark": {"type": "text", "align": "left", "baseline": "middle", "fontSize": 16},
       "encoding": {
        "x": {"field": "l", "type": "quantitative", "axis": {"orient": "bottom", "values": [120, 60, 0, -60, -120], "labels": false, "tickSize": -23, "title": null}},
        "y": {"field": "v", "type": "quantitative", "axis": {"orient": "left", "values": [0.975, 0.985, 0.995, 1.005, 1.015, 1.025, 1.035, 1.045, 1.055, 1.065, 1.075], "labels": false, "tickSize": -10, "title": null}},
        "text": {"field": "t"},
        "color": {"field": "s", "type": "nominal", "legend": null}
       }},
      {"data": {"values": [{"t": "MED", "l": 120, "v": 0.98, "s": "MED"}, {"t": "smallest K₀", "l": 0, "v": 0.98, "s": "smallest"}, {"t": "largest K₀", "l": -120, "v": 0.98, "s": "largest"}]},
       "mark": {"type": "text", "align": "center", "baseline": "middle", "fontSize": 16},
       "encoding": {
        "x": {"field": "l", "type": "quantitative", "axis": null},
        "y": {"field": "v", "type": "quantitative", "axis": {"orient": "right", "values": [0.98, 0.99, 1.0, 1.01, 1.02, 1.03, 1.04, 1.05, 1.06, 1.07], "labels": false, "tickSize": -20.7, "title": null}},
        "text": {"field": "t"},
        "color": {"field": "s", "type": "nominal", "legend": null}
       }},
      {"data": {"values": [{"t": "Influence of parameter K₀", "l": 0, "v": 1.08532, "s": "note"}]},
       "mark": {"type": "text", "align": "center", "baseline": "middle", "fontSize": 14.5},
       "encoding": {
        "x": {"field": "l", "type": "quantitative", "axis": null},
        "y": {"field": "v", "type": "quantitative", "axis": {"orient": "right", "values": [0.975, 0.985, 0.995, 1.005, 1.015, 1.025, 1.035, 1.045, 1.055, 1.065, 1.075], "labels": false, "tickSize": -10, "title": null}},
        "text": {"field": "t"},
        "color": {"field": "s", "type": "nominal", "legend": null}
       }}
     ]
    }
   ]
  }
 ]
}
